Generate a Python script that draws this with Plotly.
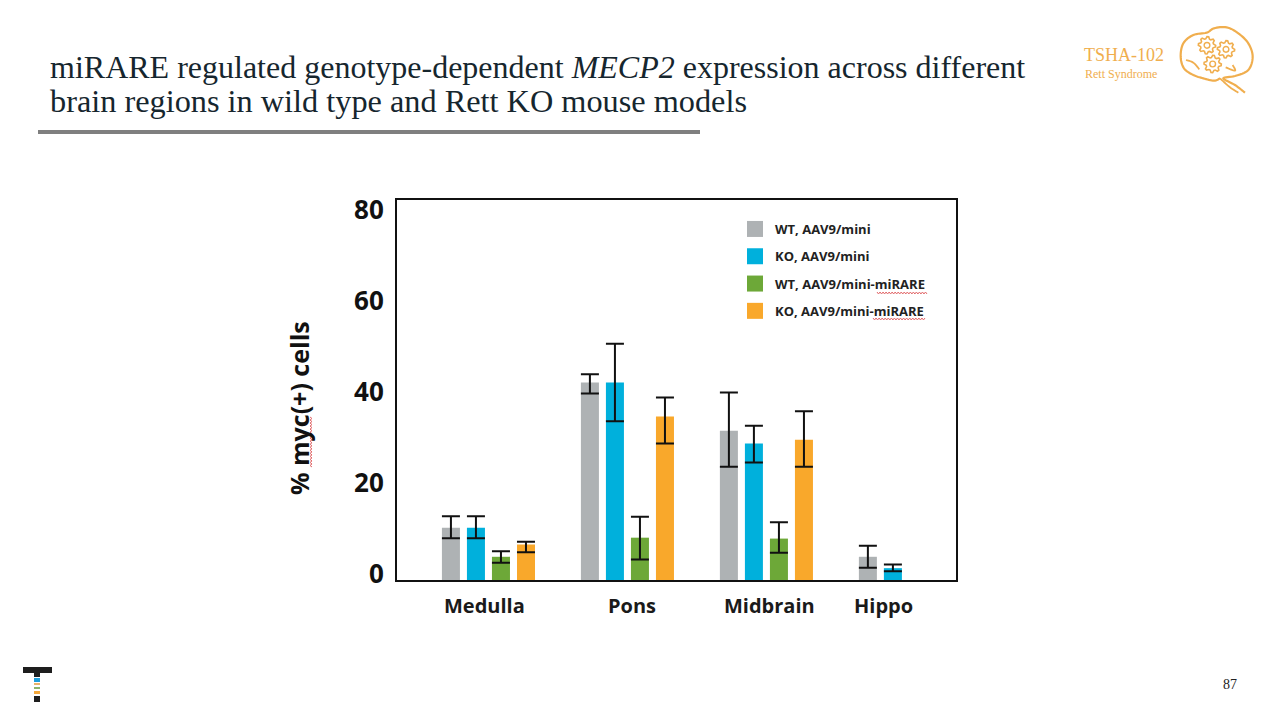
import math
import plotly.graph_objects as go

# ---------- data ----------
CATEGORIES = ["Medulla", "Pons", "Midbrain", "Hippo"]
SERIES = ["WT, AAV9/mini", "KO, AAV9/mini", "WT, AAV9/mini-miRARE", "KO, AAV9/mini-miRARE"]
WT_MINI = [11.5, 43.4, 32.8, 5.1]
KO_MINI = [11.5, 43.4, 30.0, 2.6]
WT_MIRARE = [5.1, 9.3, 9.1, None]
KO_MIRARE = [7.8, 35.9, 30.8, None]
WT_MINI_HI = [14.0, 45.2, 41.2, 7.5]
KO_MINI_HI = [14.0, 51.9, 33.9, 3.4]
WT_MIRARE_HI = [6.3, 13.9, 12.7, None]
KO_MIRARE_HI = [8.4, 40.1, 37.1, None]
WT_MINI_LO = [9.2, 41.0, 24.9, 2.7]
KO_MINI_LO = [9.2, 34.9, 25.8, 1.9]
WT_MIRARE_LO = [3.8, 4.5, 6.0, None]
KO_MIRARE_LO = [6.1, 30.0, 24.9, None]
Y_TICKS = [0, 20, 40, 60, 80]

COLORS = ["#AEB2B4", "#00B0DC", "#6DA838", "#F9A82B"]
VALUES = [WT_MINI, KO_MINI, WT_MIRARE, KO_MIRARE]
HIGHS = [WT_MINI_HI, KO_MINI_HI, WT_MIRARE_HI, KO_MIRARE_HI]
LOWS = [WT_MINI_LO, KO_MINI_LO, WT_MIRARE_LO, KO_MIRARE_LO]

W, H = 1280, 720
SANS = "Open Sans"
SERIF = "Liberation Serif"
LOGO = "#F0AE4E"


def X(px):
    return px / W


def Y(px):
    return 1 - px / H


def diff(a, b):
    return [None if p is None else p - q for p, q in zip(a, b)]


fig = go.Figure()
for name, vals, hi, lo, col in zip(SERIES, VALUES, HIGHS, LOWS, COLORS):
    fig.add_bar(
        x=CATEGORIES, y=vals, name=name, marker=dict(color=col, line=dict(width=0)),
        showlegend=False, legendgroup=name,
        error_y=dict(type="data", symmetric=False, array=diff(hi, vals), arrayminus=diff(vals, lo),
                     color="#111111", thickness=2, width=9),
    )
for name, col in zip(SERIES, COLORS):
    fig.add_scatter(
        x=[CATEGORIES[0]], y=[None], mode="markers", name=name, legendgroup=name,
        marker=dict(symbol="square", size=16, color=col),
    )

shapes = []
# rule under the title
shapes.append(dict(type="rect", xref="paper", yref="paper", x0=X(38), x1=X(700), y0=Y(134), y1=Y(130),
                   fillcolor="#7F7F7F", line=dict(width=0)))


def path(points, close=False):
    return "M" + "L".join(f"{X(p[0]):.5f},{Y(p[1]):.5f}" for p in points) + ("Z" if close else "")


def squiggle(x0, y0, x1, y1):
    n = int(max(abs(x1 - x0), abs(y1 - y0)) / 1.5)
    pts = []
    for i in range(n + 1):
        t = i / n
        s = 1 if i % 2 else -1
        if abs(x1 - x0) > abs(y1 - y0):
            pts.append((x0 + (x1 - x0) * t, y0 + s))
        else:
            pts.append((x0 + s, y0 + (y1 - y0) * t))
    shapes.append(dict(type="path", xref="paper", yref="paper", path=path(pts),
                       line=dict(color="#E2696B", width=1)))


squiggle(311, 417, 311, 467)
squiggle(877, 293, 927, 293)
squiggle(873, 319, 925, 319)


# brain logo, coordinates from the 3x crop of the corner
def L(zx, zy):
    return (1060 + zx / 3, 10 + zy / 3)


def curve(points):
    """Smooth polyline through the given crop points."""
    pts = [L(*p) for p in points]
    out = []
    for i in range(len(pts) - 1):
        p0 = pts[max(i - 1, 0)]
        p1 = pts[i]
        p2 = pts[i + 1]
        p3 = pts[min(i + 2, len(pts) - 1)]
        for k in range(8):
            t = k / 8
            out.append(tuple(
                0.5 * (2 * p1[a] + (p2[a] - p0[a]) * t + (2 * p0[a] - 5 * p1[a] + 4 * p2[a] - p3[a]) * t * t
                       + (3 * p1[a] - p0[a] - 3 * p2[a] + p3[a]) * t ** 3) for a in (0, 1)))
    out.append(pts[-1])
    return path(out)


def stroke(points, width=2):
    shapes.append(dict(type="path", xref="paper", yref="paper", path=curve(points),
                       line=dict(color=LOGO, width=width)))


stroke([(480, 205), (462, 212), (430, 205), (400, 195), (372, 175), (362, 140), (370, 100), (400, 75),
        (440, 68), (462, 55), (500, 52), (535, 70), (565, 100), (578, 140), (565, 180), (525, 198), (490, 205),
        (525, 225), (555, 248)], 2.2)
stroke([(378, 150), (400, 158), (418, 178)], 1.8)
stroke([(497, 172), (525, 182), (518, 165)], 1.8)
stroke([(480, 205), (510, 232), (535, 248)], 1.8)


def gear(cx, cy, r):
    pts = []
    teeth = 8
    for i in range(teeth * 4):
        a = 2 * math.pi * i / (teeth * 4)
        rr = r if i % 4 in (0, 1) else r * 0.76
        pts.append(L(cx + rr * math.cos(a), cy + rr * math.sin(a)))
    shapes.append(dict(type="path", xref="paper", yref="paper", path=path(pts, True),
                       line=dict(color=LOGO, width=1.6)))
    c = L(cx, cy)
    rp = r * 0.33 / 3
    shapes.append(dict(type="circle", xref="paper", yref="paper", x0=X(c[0] - rp), x1=X(c[0] + rp),
                       y0=Y(c[1] - rp), y1=Y(c[1] + rp), line=dict(color=LOGO, width=1.4)))


gear(441, 106, 26)
gear(498, 118, 26)
gear(458, 162, 26)

# company mark, lower left
for y0, y1, x0, x1, col in [
    (667, 673, 23, 52, "#1E1E1E"), (673, 677, 34, 40, "#1E1E1E"), (678, 682, 34, 40, "#1E9FDC"),
    (683, 685, 34, 40, "#E9B36A"), (687, 689, 34, 40, "#8DB46A"), (691, 694, 34, 40, "#F5A83A"),
    (696, 702, 34, 40, "#1E1E1E"),
]:
    shapes.append(dict(type="rect", xref="paper", yref="paper", x0=X(x0), x1=X(x1), y0=Y(y1), y1=Y(y0),
                       fillcolor=col, line=dict(width=0)))

annotations = [
    dict(text="brain regions in wild type and Rett KO mouse models", x=X(48), y=Y(101), xanchor="left", yanchor="middle",
         font=dict(family=SERIF, size=32.3, color="#16262E")),
    dict(text="TSHA-102", x=X(1124), y=Y(55), font=dict(family=SERIF, size=18, color=LOGO)),
    dict(text="Rett Syndrome", x=X(1121), y=Y(74), font=dict(family=SERIF, size=12, color=LOGO)),
    dict(text="87", x=X(1230), y=Y(684), font=dict(family=SERIF, size=14, color="#222222")),
    # the axis label sits below the axis centre in the reference
    dict(text="<b>% myc(+) cells</b>", x=X(299), y=Y(408), textangle=-90,
         font=dict(family=SANS, size=25, color="#111111")),
]
for a in annotations:
    a.update(xref="paper", yref="paper", showarrow=False)
    a.setdefault("xanchor", "center")
    a.setdefault("yanchor", "middle")

# group labels sit slightly off the group centres in the reference
for cat, shift in zip(CATEGORIES, [-3.5, 4.5, 3, -21.5]):
    annotations.append(dict(text=f"<b>{cat}</b>", xref="x", yref="paper", x=cat, y=Y(605), xshift=shift,
                            showarrow=False, yanchor="middle", font=dict(family=SANS, size=20, color="#1A1A1A")))

fig.update_layout(
    width=W, height=H, autosize=False,
    margin=dict(l=0, r=0, t=0, b=0, pad=0),
    paper_bgcolor="white", plot_bgcolor="white",
    barmode="group", bargap=0.28, bargroupgap=0.28,
    title=dict(text="miRARE regulated genotype-dependent <i>MECP2</i> expression across different",
               x=X(50), xanchor="left", xref="paper", y=Y(67), yanchor="middle",
               font=dict(family=SERIF, size=32, color="#16262E")),
    showlegend=True,
    legend=dict(x=X(735), y=Y(214), xanchor="left", yanchor="top", bgcolor="rgba(0,0,0,0)",
                traceorder="grouped", tracegroupgap=7.4,
                font=dict(family=SANS, size=13, color="#222222", weight="bold")),
    xaxis=dict(domain=[X(397), X(956)], type="category", categoryorder="array", categoryarray=CATEGORIES,
               range=[-0.658, 3.364], showticklabels=False, ticks="", showgrid=False, zeroline=False, automargin=False,
               showline=True, mirror=True, linecolor="#111111", linewidth=2, layer="above traces"),
    yaxis=dict(domain=[Y(580), Y(200)], range=[0, 83.5], tickvals=Y_TICKS, ticktext=[str(v) for v in Y_TICKS],
               ticks="", showgrid=False, zeroline=False, showline=True, mirror=True, linecolor="#111111",
               linewidth=2, ticklabelstandoff=6, ticklabelshift=-6, automargin=False,
               tickfont=dict(family=SANS, size=26, color="#111111", weight="bold")),
    shapes=shapes, annotations=annotations,
)

fig.write_html("out.html", config=dict(displayModeBar=False),
               post_script="document.body.style.margin='0';document.body.style.overflow='hidden';")
